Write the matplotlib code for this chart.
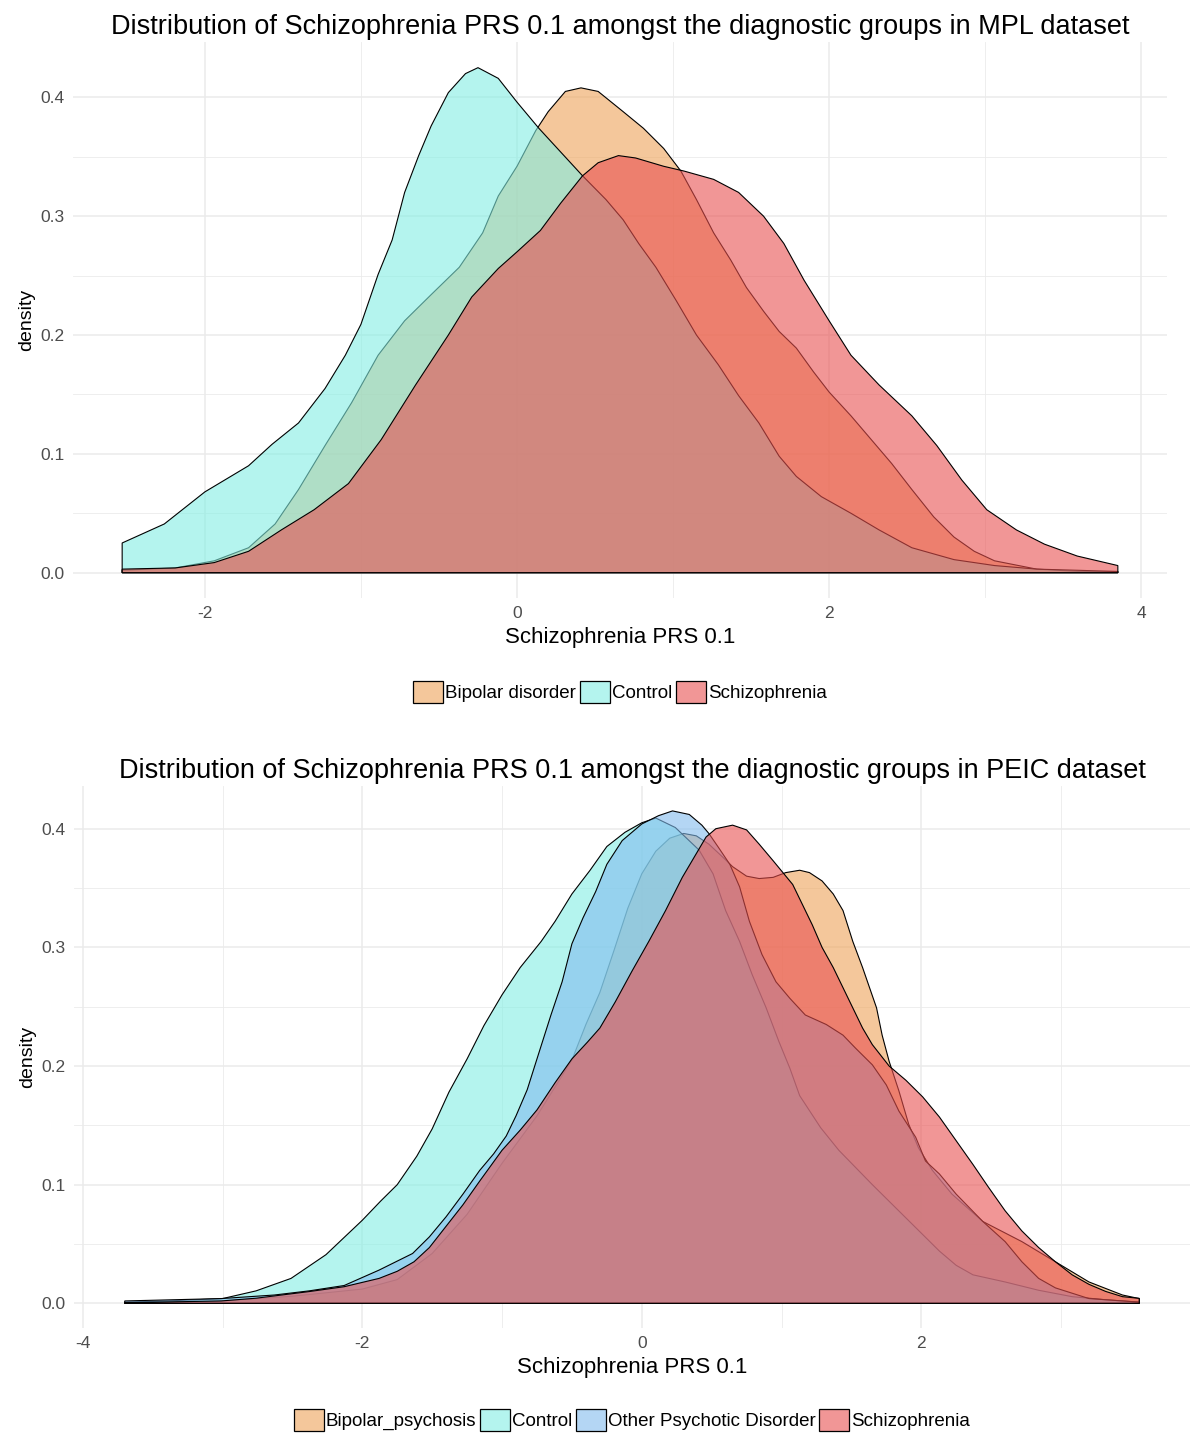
import matplotlib
matplotlib.use("Agg")
import matplotlib.pyplot as plt
from matplotlib.colors import to_rgba
from matplotlib.patches import Patch
from matplotlib.ticker import MultipleLocator

plt.rcParams['font.family'] = ['Liberation Sans', 'DejaVu Sans']
plt.rcParams['axes.unicode_minus'] = False

# ---- MPL dataset (top panel) ----
mpl_groups = ["Bipolar disorder", "Control", "Schizophrenia"]
mpl_bip_x = [-2.53, -2.19, -1.94, -1.72, -1.55, -1.40, -1.23, -1.06, -0.89, -0.72, -0.55, -0.37, -0.22,
             -0.12, 0.0, 0.12, 0.20, 0.31, 0.41, 0.52, 0.68, 0.81, 0.94, 1.05, 1.15, 1.26, 1.37, 1.47,
             1.58, 1.68, 1.79, 1.90, 2.00, 2.14, 2.27, 2.40, 2.53, 2.67, 2.80, 2.93, 3.06, 3.33, 3.60, 3.85]
mpl_bip_y = [0.002, 0.004, 0.010, 0.021, 0.041, 0.070, 0.107, 0.143, 0.183, 0.212, 0.234, 0.257, 0.286,
             0.317, 0.342, 0.372, 0.388, 0.405, 0.408, 0.405, 0.388, 0.374, 0.357, 0.338, 0.314, 0.286,
             0.263, 0.240, 0.220, 0.203, 0.189, 0.169, 0.152, 0.132, 0.112, 0.092, 0.070, 0.047, 0.030,
             0.018, 0.010, 0.003, 0.001, 0.001]
mpl_ctl_x = [-2.53, -2.26, -2.0, -1.72, -1.57, -1.40, -1.23, -1.10, -1.0, -0.89, -0.80, -0.72, -0.63,
             -0.55, -0.44, -0.33, -0.25, -0.12, 0.0, 0.14, 0.28, 0.42, 0.57, 0.68, 0.78, 0.89, 1.02,
             1.15, 1.29, 1.42, 1.55, 1.68, 1.79, 1.95, 2.14, 2.32, 2.53, 2.80, 3.06, 3.33, 3.60, 3.85]
mpl_ctl_y = [0.025, 0.041, 0.068, 0.090, 0.108, 0.126, 0.155, 0.183, 0.209, 0.251, 0.280, 0.320, 0.351,
             0.376, 0.404, 0.420, 0.425, 0.416, 0.396, 0.374, 0.354, 0.334, 0.314, 0.297, 0.277, 0.257,
             0.229, 0.200, 0.175, 0.149, 0.126, 0.098, 0.081, 0.064, 0.050, 0.036, 0.021, 0.011, 0.006,
             0.003, 0.002, 0.001]
mpl_scz_x = [-2.53, -2.19, -1.94, -1.72, -1.51, -1.30, -1.08, -0.87, -0.65, -0.44, -0.29, -0.12, 0.0,
             0.15, 0.28, 0.42, 0.52, 0.65, 0.76, 0.94, 1.07, 1.26, 1.42, 1.58, 1.71, 1.84, 2.00, 2.14,
             2.32, 2.53, 2.69, 2.85, 3.01, 3.20, 3.38, 3.59, 3.85]
mpl_scz_y = [0.003, 0.004, 0.0085, 0.018, 0.036, 0.053, 0.075, 0.112, 0.158, 0.200, 0.232, 0.256, 0.270,
             0.288, 0.311, 0.334, 0.345, 0.351, 0.349, 0.342, 0.338, 0.331, 0.320, 0.300, 0.277, 0.246,
             0.212, 0.183, 0.158, 0.132, 0.107, 0.078, 0.053, 0.036, 0.024, 0.014, 0.006]

# ---- PEIC dataset (bottom panel) ----
peic_groups = ["Bipolar_psychosis", "Control", "Other Psychotic Disorder", "Schizophrenia"]
peic_bip_x = [-3.70, -3.0, -2.5, -2.0, -1.75, -1.5, -1.25, -1.0, -0.75, -0.5, -0.4, -0.3, -0.2, -0.1,
              0.0, 0.10, 0.20, 0.30, 0.39, 0.48, 0.58, 0.65, 0.75, 0.84, 0.94, 1.03, 1.13, 1.20, 1.29,
              1.37, 1.44, 1.51, 1.58, 1.63, 1.68, 1.72, 1.77, 1.84, 1.91, 1.98, 2.08, 2.22, 2.44, 2.72,
              2.96, 3.20, 3.44, 3.56]
peic_bip_y = [0.0005, 0.002, 0.006, 0.012, 0.020, 0.042, 0.075, 0.118, 0.158, 0.205, 0.235, 0.262, 0.297,
              0.333, 0.362, 0.381, 0.392, 0.396, 0.394, 0.387, 0.376, 0.368, 0.360, 0.358, 0.359, 0.363,
              0.365, 0.363, 0.356, 0.345, 0.331, 0.305, 0.283, 0.266, 0.249, 0.226, 0.204, 0.179, 0.151,
              0.131, 0.112, 0.092, 0.069, 0.052, 0.035, 0.018, 0.007, 0.004]
peic_ctl_x = [-3.70, -3.39, -3.0, -2.76, -2.51, -2.26, -2.0, -1.87, -1.75, -1.61, -1.50, -1.38, -1.25,
              -1.13, -1.0, -0.87, -0.72, -0.62, -0.50, -0.37, -0.25, -0.12, 0.0, 0.10, 0.24, 0.41, 0.51,
              0.60, 0.70, 0.79, 0.89, 0.98, 1.06, 1.13, 1.28, 1.41, 1.65, 1.89, 2.13, 2.25, 2.37, 2.60,
              2.84, 3.08, 3.32, 3.56]
peic_ctl_y = [0.001, 0.002, 0.004, 0.0105, 0.021, 0.041, 0.070, 0.086, 0.100, 0.124, 0.147, 0.178, 0.206,
              0.234, 0.260, 0.283, 0.305, 0.322, 0.345, 0.365, 0.385, 0.397, 0.405, 0.409, 0.401, 0.382,
              0.362, 0.331, 0.305, 0.277, 0.249, 0.221, 0.198, 0.175, 0.148, 0.129, 0.100, 0.072, 0.044,
              0.032, 0.024, 0.018, 0.011, 0.0056, 0.003, 0.001]
peic_oth_x = [-3.70, -3.01, -2.63, -2.38, -2.13, -1.88, -1.64, -1.52, -1.40, -1.28, -1.16, -1.06, -0.97,
              -0.90, -0.82, -0.75, -0.65, -0.57, -0.50, -0.42, -0.33, -0.25, -0.14, 0.0, 0.12, 0.22,
              0.34, 0.43, 0.48, 0.55, 0.63, 0.70, 0.77, 0.86, 0.96, 1.06, 1.17, 1.32, 1.44, 1.53, 1.65,
              1.75, 1.84, 1.96, 2.03, 2.13, 2.25, 2.44, 2.60, 2.72, 2.84, 2.96, 3.20, 3.56]
peic_oth_y = [0.002, 0.004, 0.007, 0.0105, 0.015, 0.028, 0.042, 0.056, 0.073, 0.092, 0.112, 0.126, 0.141,
              0.158, 0.180, 0.206, 0.243, 0.271, 0.303, 0.325, 0.347, 0.370, 0.390, 0.404, 0.411, 0.415,
              0.412, 0.403, 0.396, 0.384, 0.370, 0.351, 0.322, 0.294, 0.271, 0.257, 0.243, 0.235, 0.226,
              0.215, 0.201, 0.184, 0.162, 0.140, 0.120, 0.109, 0.092, 0.069, 0.052, 0.035, 0.021, 0.013,
              0.004, 0.001]
peic_scz_x = [-3.70, -3.01, -2.76, -2.38, -2.13, -1.88, -1.75, -1.63, -1.52, -1.40, -1.28, -1.16, -1.0,
              -0.87, -0.75, -0.62, -0.50, -0.39, -0.30, -0.19, -0.07, 0.05, 0.17, 0.29, 0.39, 0.46, 0.53,
              0.65, 0.75, 0.84, 0.94, 1.01, 1.08, 1.15, 1.22, 1.29, 1.37, 1.44, 1.51, 1.58, 1.65, 1.77,
              1.89, 2.01, 2.13, 2.25, 2.37, 2.48, 2.60, 2.72, 2.84, 2.96, 3.08, 3.20, 3.32, 3.44, 3.56]
peic_scz_y = [0.0005, 0.002, 0.0043, 0.0099, 0.014, 0.021, 0.027, 0.035, 0.047, 0.065, 0.083, 0.103, 0.129,
              0.146, 0.163, 0.186, 0.206, 0.220, 0.232, 0.254, 0.280, 0.305, 0.331, 0.359, 0.379, 0.393,
              0.400, 0.403, 0.399, 0.387, 0.373, 0.363, 0.353, 0.336, 0.319, 0.300, 0.283, 0.266, 0.249,
              0.232, 0.218, 0.200, 0.188, 0.174, 0.157, 0.137, 0.117, 0.098, 0.078, 0.061, 0.047, 0.035,
              0.024, 0.016, 0.010, 0.0056, 0.0042]

col_bip = "#EEA358"
col_ctl = "#82EEE3"
col_oth = "#82BCEE"
col_scz = "#E95050"
ALPHA = 0.6
GRID = "#EBEBEB"


def draw_density(ax, xs, ys, color):
    # closed polygon down to the baseline, like geom_density
    px = [xs[0]] + list(xs) + [xs[-1]]
    py = [0] + list(ys) + [0]
    ax.fill(px, py, facecolor=to_rgba(color, ALPHA), edgecolor="black", linewidth=0.8, zorder=2)


def style_axes(ax, title):
    for s in ax.spines.values():
        s.set_visible(False)
    ax.xaxis.set_major_locator(MultipleLocator(2))
    ax.xaxis.set_minor_locator(MultipleLocator(1))
    ax.yaxis.set_major_locator(MultipleLocator(0.1))
    ax.yaxis.set_minor_locator(MultipleLocator(0.05))
    ax.grid(which="major", color=GRID, linewidth=1.1, zorder=0)
    ax.grid(which="minor", color=GRID, linewidth=0.6, zorder=0)
    ax.set_axisbelow(True)
    ax.tick_params(which="both", length=0, labelsize=12.5, colors="#4D4D4D", pad=6)
    ax.yaxis.set_major_formatter(plt.FuncFormatter(lambda v, p: f"{v:.1f}"))
    ax.xaxis.set_major_formatter(plt.FuncFormatter(lambda v, p: f"{v:.0f}"))
    ax.set_xlabel("Schizophrenia PRS 0.1", fontsize=16, labelpad=4)
    ax.set_ylabel("density", fontsize=14, labelpad=4)
    ax.set_title(title, fontsize=19.5, pad=6)


def add_legend(ax, labels, colors, y):
    handles = [Patch(facecolor=to_rgba(c, ALPHA), edgecolor="black", linewidth=0.9) for c in colors]
    ax.legend(handles, labels, loc="center", bbox_to_anchor=(0.5, y), ncol=len(labels),
              frameon=False, fontsize=13.5, handlelength=1.6, handleheight=1.5,
              handletextpad=0.1, columnspacing=0.2, borderaxespad=0, borderpad=0)


fig = plt.figure(figsize=(11.96, 14.35), dpi=100)
W, H = 1196, 1435

# top panel
ax1 = fig.add_axes([73 / W, 1 - 598 / H, (1167 - 73) / W, (598 - 42) / H])
draw_density(ax1, mpl_bip_x, mpl_bip_y, col_bip)
draw_density(ax1, mpl_ctl_x, mpl_ctl_y, col_ctl)
draw_density(ax1, mpl_scz_x, mpl_scz_y, col_scz)
ax1.set_xlim(-2.845, 4.165)
ax1.set_ylim(-0.0213, 0.4466)
style_axes(ax1, "Distribution of Schizophrenia PRS 0.1 amongst the diagnostic groups in MPL dataset")
add_legend(ax1, mpl_groups, [col_bip, col_ctl, col_scz], -94 / 556)

# bottom panel
ax2 = fig.add_axes([74 / W, 1 - 1328 / H, (1190 - 74) / W, (1328 - 786) / H])
draw_density(ax2, peic_bip_x, peic_bip_y, col_bip)
draw_density(ax2, peic_ctl_x, peic_ctl_y, col_ctl)
draw_density(ax2, peic_oth_x, peic_oth_y, col_oth)
draw_density(ax2, peic_scz_x, peic_scz_y, col_scz)
ax2.set_xlim(-4.063, 3.923)
ax2.set_ylim(-0.0208, 0.436)
style_axes(ax2, "Distribution of Schizophrenia PRS 0.1 amongst the diagnostic groups in PEIC dataset")
add_legend(ax2, peic_groups, [col_bip, col_ctl, col_oth, col_scz], -92 / 542)

fig.savefig("out.png", dpi=100)
